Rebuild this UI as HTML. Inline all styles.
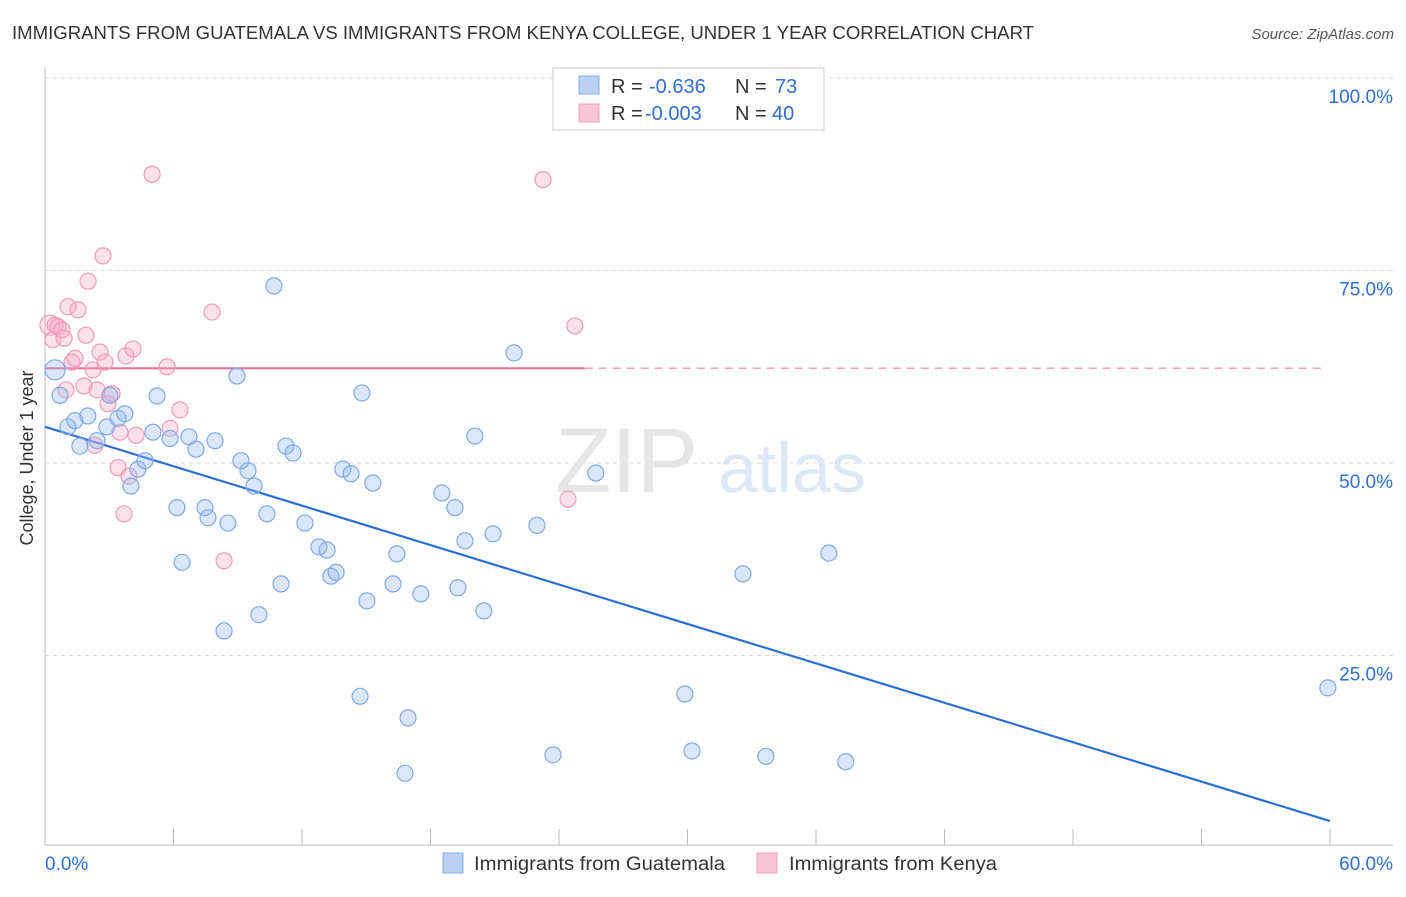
<!DOCTYPE html>
<html><head><meta charset="utf-8">
<style>
body{margin:0;background:#fff;font-family:"Liberation Sans",sans-serif;}
svg text{font-family:"Liberation Sans",sans-serif;}
</style></head>
<body>
<svg id="chart" width="1406" height="892" viewBox="0 0 1406 892" xmlns="http://www.w3.org/2000/svg">
<text x="12" y="39" font-size="18" fill="#333" textLength="1022" lengthAdjust="spacingAndGlyphs">IMMIGRANTS FROM GUATEMALA VS IMMIGRANTS FROM KENYA COLLEGE, UNDER 1 YEAR CORRELATION CHART</text>
<text x="1394" y="39" font-size="15" fill="#555" font-style="italic" text-anchor="end">Source: ZipAtlas.com</text>
<g id="grid"></g>
<g>
<text x="555" y="492" font-size="92" fill="#e6e6e6" font-family="Liberation Serif,serif">ZIP</text>
<text x="718" y="492" font-size="70" fill="#dce8f6">atlas</text>
</g>
<g id="axes"></g>
<g id="trends"></g>
<g id="points"></g>
<text x="33" y="458" font-size="18" fill="#333" text-anchor="middle" transform="rotate(-90 33 458)">College, Under 1 year</text>
<g>
<rect x="553" y="68" width="271" height="62" fill="#fff" stroke="#ccc"/>
<rect x="579" y="76" width="20" height="18" fill="#b9d0f2" stroke="#86aee6"/>
<rect x="579" y="104" width="20" height="18" fill="#f9c4d6" stroke="#f0a0bd"/>
<text x="611" y="93" font-size="20" fill="#333">R =</text>
<text x="649" y="93" font-size="20" fill="#2f6fd6">-0.636</text>
<text x="735" y="93" font-size="20" fill="#333">N =</text>
<text x="775" y="93" font-size="20" fill="#2f6fd6">73</text>
<text x="611" y="120" font-size="20" fill="#333">R =</text>
<text x="645" y="120" font-size="20" fill="#2f6fd6">-0.003</text>
<text x="735" y="120" font-size="20" fill="#333">N =</text>
<text x="772" y="120" font-size="20" fill="#2f6fd6">40</text>
</g>
<g>
<rect x="443" y="853" width="20" height="20" fill="#b9d0f2" stroke="#86aee6"/>
<text x="474" y="870" font-size="19" fill="#333" textLength="251" lengthAdjust="spacingAndGlyphs">Immigrants from Guatemala</text>
<rect x="757" y="853" width="20" height="20" fill="#f9c4d6" stroke="#f0a0bd"/>
<text x="789" y="870" font-size="19" fill="#333" textLength="208" lengthAdjust="spacingAndGlyphs">Immigrants from Kenya</text>
</g>
</svg>
<script>
const yTicks=[25,50,75,100];
const yTickLabels=["25.0%","50.0%","75.0%","100.0%"];
const xTickCount=10;
const xTickLabels=["0.0%","60.0%"];
const blueX=[0.47,0.7,1.07,1.4,1.63,2.0,2.43,2.89,3.03,3.41,3.73,4.01,4.34,4.67,5.04,5.23,5.84,6.16,6.4,6.72,7.05,7.47,7.61,7.94,8.36,8.54,8.96,9.15,9.48,9.76,9.99,10.36,10.69,11.02,11.25,11.58,12.14,12.79,13.17,13.35,13.59,13.91,14.29,14.71,14.8,15.03,15.31,16.25,16.43,16.95,16.81,17.55,18.53,19.14,19.28,19.61,20.07,20.49,20.92,21.9,22.97,23.72,25.72,29.88,30.21,32.59,33.66,36.6,37.39,59.9];
const blueY=[62.1,58.8,54.7,55.5,52.2,56.1,52.9,54.7,58.8,55.8,56.4,47.0,49.2,50.3,54.0,58.7,53.2,44.2,37.1,53.4,51.8,44.2,42.9,52.9,28.2,42.2,61.3,50.3,49.0,47.0,30.3,43.4,73.0,34.3,52.2,51.3,42.2,39.1,38.7,35.3,35.8,49.2,48.6,19.7,59.1,32.1,47.4,34.3,38.2,16.9,9.7,33.0,46.1,44.2,33.8,39.9,53.5,30.8,40.8,64.3,41.9,12.1,48.7,20.0,12.6,35.6,11.9,38.3,11.2,20.8];
const pinkX=[0.23,0.37,0.47,0.61,0.79,0.89,0.98,1.07,1.26,1.4,1.54,1.82,1.91,2.01,2.24,2.43,2.57,2.71,2.8,2.94,3.13,3.41,3.5,3.69,3.78,3.92,4.11,4.25,5.0,5.7,5.84,6.3,7.8,8.36,23.25,24.42,24.74,2.33];
const pinkY=[67.9,66.0,67.9,67.7,67.3,66.2,59.5,70.3,63.1,63.6,69.9,60.0,66.6,73.6,62.1,59.5,64.4,76.9,63.1,57.7,59.0,49.4,54.0,43.4,63.9,48.3,64.8,53.6,87.5,62.5,54.5,56.9,69.6,37.3,86.8,45.3,67.8,52.3];
const blueTrend=[54.7,3.5];
const pinkTrend=[62.3,62.3];
const pinkSolidEnd=25.2;

const NS="http://www.w3.org/2000/svg";
const X0=45,X1=1330,Y0=848,Y100=78;
function sx(v){return X0+(X1-X0)*v/60;}
function sy(v){return Y0-(Y0-Y100)*v/100;}
function mk(tag,attrs,parent){const e=document.createElementNS(NS,tag);for(const k in attrs)e.setAttribute(k,attrs[k]);parent.appendChild(e);return e;}
const grid=document.getElementById('grid'),axes=document.getElementById('axes'),trends=document.getElementById('trends'),pts=document.getElementById('points');
yTicks.forEach((t,i)=>{
  const l=mk('line',{x1:X0,x2:1393,y1:sy(t),y2:sy(t),stroke:'#ddd','stroke-dasharray':'4,4'},grid);
  
  
  const tx=mk('text',{x:1393,y:sy(t)+25,'font-size':19,fill:'#2f6fd6','text-anchor':'end'},axes);
  tx.textContent=yTickLabels[i];
  
  
});
const ya=mk('line',{x1:X0,x2:X0,y1:68,y2:845,stroke:'#bbb'},axes);


const xa=mk('line',{x1:X0,x2:1393,y1:845,y2:845,stroke:'#bbb'},axes);


for(let i=0;i<=xTickCount;i++){
  const v=60*i/xTickCount;
  const t=mk('line',{x1:sx(v),x2:sx(v),y1:829,y2:845,stroke:'#bbb'},axes);
  
  
}
const xl0=mk('text',{x:45,y:870,'font-size':19,fill:'#2f6fd6'},axes);
xl0.textContent=xTickLabels[0];


const xl1=mk('text',{x:1393,y:870,'font-size':19,fill:'#2f6fd6','text-anchor':'end'},axes);
xl1.textContent=xTickLabels[1];



function dot(x,y,r,fill,stroke,name){
  const c=mk('circle',{cx:sx(x),cy:sy(y),r:r,fill:fill,stroke:stroke,'stroke-width':1.2},pts);
  
  
}
pinkX.forEach((x,i)=>dot(x,pinkY[i],i===0?10:8,'rgba(246,170,198,0.35)','#f09ab9','point-kenya'));
blueX.forEach((x,i)=>dot(x,blueY[i],i===0?10:8,'rgba(150,185,240,0.35)','#7fa8e6','point-guatemala'));

const bt=mk('line',{x1:sx(0),y1:sy(blueTrend[0]),x2:sx(60),y2:sy(blueTrend[1]),stroke:'#2a6fd6','stroke-width':2.2},trends);


const ps=mk('line',{x1:sx(0),y1:sy(pinkTrend[0]),x2:sx(pinkSolidEnd),y2:sy(pinkTrend[0]+(pinkTrend[1]-pinkTrend[0])*pinkSolidEnd/60),stroke:'#e8709a','stroke-width':2.2},trends);


const pd=mk('line',{x1:sx(pinkSolidEnd),y1:sy(pinkTrend[0]),x2:sx(59.8),y2:sy(pinkTrend[1]),stroke:'#eea0bb','stroke-width':1.5,'stroke-dasharray':'8,6'},trends);


</script>
</body></html>
